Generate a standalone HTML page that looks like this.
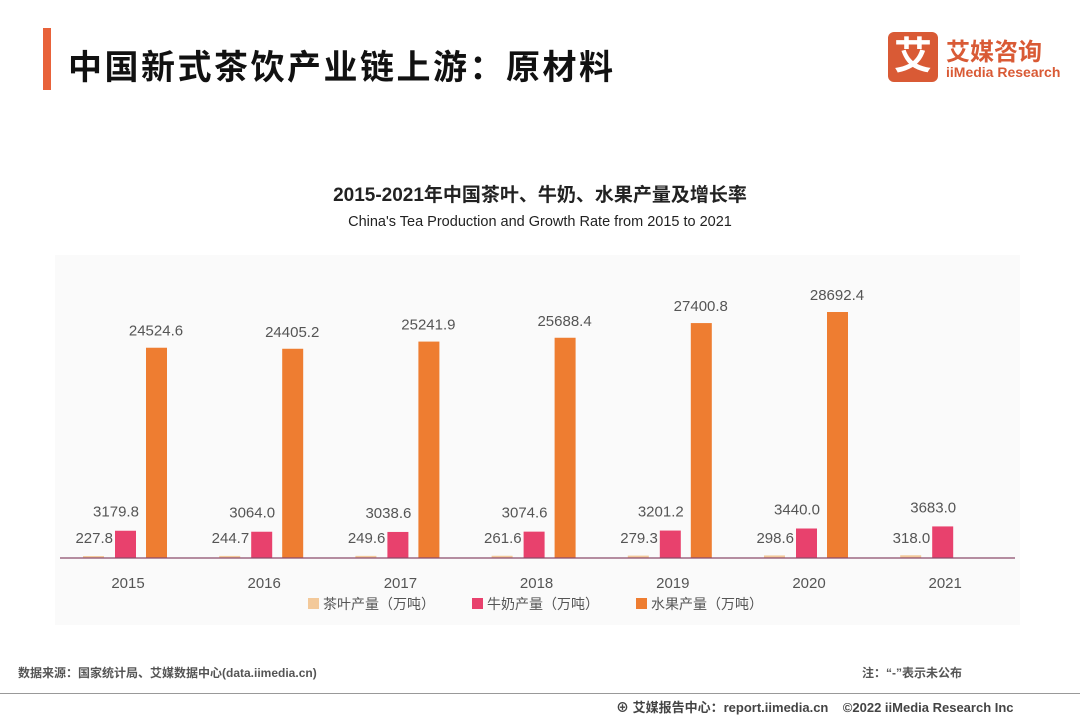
<!DOCTYPE html>
<html><head><meta charset="utf-8"><style>
body{margin:0;width:1080px;height:720px;background:#fff;font-family:"Liberation Sans","Noto Sans CJK SC",sans-serif;position:relative;overflow:hidden}
.abs{position:absolute;white-space:nowrap}
</style></head><body>
<div class="abs" style="left:43px;top:28px;width:8px;height:62px;background:#e8623a"></div>
<div class="abs" style="left:68px;top:40px;font-size:34px;font-weight:bold;color:#111;letter-spacing:2.5px">中国新式茶饮产业链上游：原材料</div>
<div class="abs" style="left:888px;top:32px;width:180px;height:50px">
 <div style="position:absolute;left:0;top:0;width:50px;height:50px;background:#d95a35;border-radius:6px;color:#fff;font-size:38px;font-weight:bold;text-align:center;line-height:50px">艾</div>
 <div style="position:absolute;left:58px;top:0px;color:#d95a35;font-size:24px;font-weight:bold;white-space:nowrap">艾媒咨询</div>
 <div style="position:absolute;left:58px;top:32px;color:#d95a35;font-size:14px;font-weight:bold;white-space:nowrap">iiMedia Research</div>
</div>
<div class="abs" style="left:55px;top:255px;width:965px;height:370px;background:#fafafa"></div>
<div class="abs" style="left:0;width:1080px;top:180px;text-align:center;font-size:19px;font-weight:bold;color:#222">2015-2021年中国茶叶、牛奶、水果产量及增长率</div>
<div class="abs" style="left:0;width:1080px;top:214px;text-align:center;font-size:14.5px;color:#222">China's Tea Production and Growth Rate from 2015 to 2021</div>
<svg class="abs" style="left:0;top:0" width="1080" height="720" id="chart"></svg>
<div class="abs" style="left:18px;top:664px;font-size:12px;color:#555;font-weight:bold">数据来源：国家统计局、艾媒数据中心(data.iimedia.cn)</div>
<div class="abs" style="left:862px;top:664px;font-size:12px;color:#555;font-weight:bold">注：“-”表示未公布</div>
<div class="abs" style="left:0;top:693px;width:1080px;height:1px;background:#999"></div>
<div class="abs" style="left:616px;top:697px;font-size:13px;color:#444;font-weight:bold">⊕ 艾媒报告中心：report.iimedia.cn &nbsp;&nbsp; ©2022 iiMedia Research Inc</div>
<script>
const years=["2015","2016","2017","2018","2019","2020","2021"];
const tea=[227.8,244.7,249.6,261.6,279.3,298.6,318.0];
const milk=[3179.8,3064.0,3038.6,3074.6,3201.2,3440.0,3683.0];
const fruit=[24524.6,24405.2,25241.9,25688.4,27400.8,28692.4,null];
const svg=document.getElementById('chart');
const NS='http://www.w3.org/2000/svg';
const base=558,scale=246/28692.4;
const y=v=>base-v*scale;
const x=i=>128+i*136.2;
function mk(t,a){const e=document.createElementNS(NS,t);for(const k in a)e.setAttribute(k,a[k]);svg.appendChild(e);return e;}
function bar(cx,v,col,name){if(v==null)return;const r=mk('rect',{x:cx,y:y(v),width:21,height:v*scale,fill:col});

}
function txt(tx,ty,s,anchor,name){const t=mk('text',{x:tx,y:ty,'text-anchor':anchor,'font-size':15,fill:'#555','font-family':'Liberation Sans, sans-serif'});t.textContent=s;

}
years.forEach((yr,i)=>{const c=x(i);
bar(c-45,tea[i],'#f3c99a','bar-tea-'+yr);
bar(c-13,milk[i],'#e8416d','bar-milk-'+yr);
bar(c+18,fruit[i],'#ee7d31','bar-fruit-'+yr);
txt(c-15,543,tea[i].toFixed(1),'end','label-tea-'+yr);
txt(c-12,y(milk[i])-14,milk[i].toFixed(1),'middle','label-milk-'+yr);
if(fruit[i]!=null)txt(c+28,y(fruit[i])-12,fruit[i].toFixed(1),'middle','label-fruit-'+yr);
txt(c,588,yr,'middle','x-tick-'+yr);
});
const ax=mk('line',{x1:60,x2:1015,y1:base,y2:base,stroke:'#8b4a6a','stroke-width':1.2});


const leg=[["茶叶产量（万吨）",'#f3c99a',308],["牛奶产量（万吨）",'#e8416d',472],["水果产量（万吨）",'#ee7d31',636]];
leg.forEach((l,i)=>{const r=mk('rect',{x:l[2],y:598,width:11,height:11,fill:l[1]});


const t=mk('text',{x:l[2]+15,y:609,'font-size':14,fill:'#555','font-family':'Liberation Sans, Noto Sans CJK SC, sans-serif'});t.textContent=l[0];

});
</script>
</body></html>
